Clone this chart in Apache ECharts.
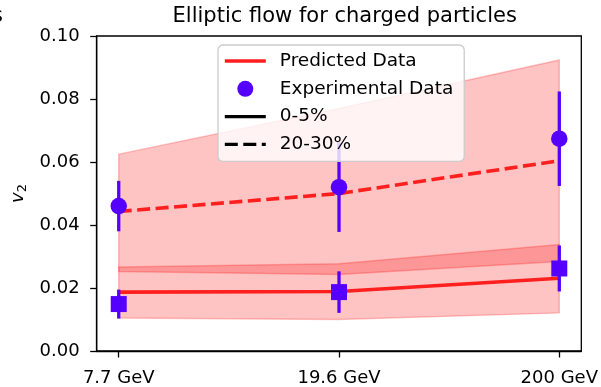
<!DOCTYPE html>
<html>
<head>
<meta charset="utf-8">
<script src="https://cdn.jsdelivr.net/npm/echarts@6/dist/echarts.min.js"></script>
<style>
  html, body { margin: 0; padding: 0; background: #ffffff; }
  #chart { width: 601px; height: 387px; }
</style>
</head>
<body>
<div id="chart"></div>
<script>
// Collision energies (x categories) and y-axis ticks
const energies = ['7.7 GeV', '19.6 GeV', '200 GeV'];
const yTicks = [0, 0.02, 0.04, 0.06, 0.08, 0.10];

// Model predictions of v2 per centrality class
const pred0to5 = [0.0187, 0.0189, 0.0231];
const pred20to30 = [0.0443, 0.0500, 0.0604];

// Prediction uncertainty bands
const band0to5Low = [0.0105, 0.0100, 0.0121];
const band0to5High = [0.0267, 0.0277, 0.0338];
const band20to30Low = [0.0252, 0.0243, 0.0284];
const band20to30High = [0.0625, 0.0770, 0.0924];

// Measured v2 with symmetric errors
const exp0to5 = [0.0149, 0.0187, 0.0262];
const exp0to5Err = [0.0046, 0.0066, 0.0073];
const exp20to30 = [0.0460, 0.0520, 0.0674];
const exp20to30Err = [0.0080, 0.0142, 0.0150];

const FONT = 'DejaVu Sans';
const predColor = '#ff1f1f';
const bandFill = 'rgba(250,0,0,0.23)';
const expColor = '#5500ff';
const dashPattern = [13, 5.5];

const chart = echarts.init(document.getElementById('chart'), null, { renderer: 'canvas' });

function bandSeries(name, lo, hi) {
  return {
    type: 'custom',
    name: name,
    silent: true,
    z: 1,
    data: energies.map((_, i) => [i, lo[i], hi[i]]),
    encode: { x: 0, y: [1, 2] },
    renderItem: (params, api) => {
      if (params.dataIndex !== 0) return null;
      const top = hi.map((v, i) => api.coord([i, v]));
      const bottom = lo.map((v, i) => api.coord([i, v])).reverse();
      return {
        type: 'polygon',
        shape: { points: top.concat(bottom) },
        style: { fill: bandFill, stroke: bandFill, lineWidth: 1.5 }
      };
    }
  };
}

function errorBarSeries(name, vals, errs) {
  return {
    type: 'custom',
    name: name,
    silent: true,
    z: 4,
    data: energies.map((_, i) => [i, vals[i], errs[i]]),
    encode: { x: 0, y: 1 },
    renderItem: (params, api) => {
      const x = api.value(0), v = api.value(1), e = api.value(2);
      const a = api.coord([x, v - e]);
      const b = api.coord([x, v + e]);
      return {
        type: 'line',
        shape: { x1: a[0], y1: a[1], x2: b[0], y2: b[1] },
        style: { stroke: expColor, lineWidth: 3.3 }
      };
    }
  };
}

const option = {
  animation: false,
  backgroundColor: '#ffffff',
  title: {
    text: 'Elliptic flow for charged particles',
    left: 339.7,
    top: 1,
    textAlign: 'center',
    textStyle: { fontFamily: FONT, fontSize: 21, fontWeight: 'normal', color: '#000' }
  },
  grid: {
    left: 96.7, right: 18.3, top: 36, bottom: 33.7,
    show: true, borderColor: '#000', borderWidth: 1.3, backgroundColor: 'transparent'
  },
  legend: {
    orient: 'vertical',
    left: 218,
    top: 45,
    z: 20,
    selectedMode: false,
    backgroundColor: 'rgba(255,255,255,0.8)',
    borderColor: '#cccccc',
    borderWidth: 1.3,
    borderRadius: 5,
    padding: [6, 11, 7, 5],
    itemWidth: 41,
    itemHeight: 16,
    itemGap: 7.8,
    textStyle: { fontFamily: FONT, fontSize: 18.5, color: '#000', lineHeight: 20, padding: [0, 0, 0, 9] },
    data: [
      { name: 'Predicted Data', itemStyle: { opacity: 0 }, lineStyle: { width: 3.6 } },
      { name: 'Experimental Data', icon: 'circle' },
      { name: '0-5%', itemStyle: { opacity: 0 }, lineStyle: { width: 3.4 } },
      { name: '20-30%', itemStyle: { opacity: 0 }, lineStyle: { width: 3.4, type: dashPattern } }
    ]
  },
  xAxis: {
    type: 'value',
    min: -0.1,
    max: 2.1,
    splitLine: { show: false },
    axisLine: { show: true, onZero: false, lineStyle: { color: '#000', width: 1.3 } },
    axisTick: {
      show: true, length: 6.5, inside: false,
      customValues: energies.map((_, i) => i),
      lineStyle: { color: '#000', width: 1.3 }
    },
    axisLabel: {
      customValues: energies.map((_, i) => i),
      formatter: (v) => energies[Math.round(v)],
      fontFamily: FONT, fontSize: 18, color: '#000', margin: 18
    }
  },
  yAxis: {
    type: 'value',
    min: yTicks[0],
    max: yTicks[yTicks.length - 1],
    interval: 0.02,
    name: '{v|v}{s|2}',
    nameLocation: 'middle',
    nameGap: 64,
    nameRotate: 90,
    nameTextStyle: {
      fontFamily: FONT, color: '#000',
      rich: {
        v: { fontFamily: FONT, fontSize: 18, fontStyle: 'italic', color: '#000' },
        s: { fontFamily: FONT, fontSize: 13, color: '#000', padding: [7, 0, 0, 0] }
      }
    },
    splitLine: { show: false },
    axisLine: { show: true, onZero: false, lineStyle: { color: '#000', width: 1.3 } },
    axisTick: { show: true, length: 6.5, inside: false, lineStyle: { color: '#000', width: 1.3 } },
    axisLabel: {
      formatter: (v) => v.toFixed(2),
      fontFamily: FONT, fontSize: 18, color: '#000', margin: 17
    }
  },
  graphic: [
    {
      type: 'text', left: -8, top: 6, silent: true,
      style: { text: 's', fontFamily: FONT, fontSize: 21, fill: '#000' }
    }
  ],
  series: [
    // prediction lines (the solid one defines the legend icon)
    {
      type: 'line', name: 'Predicted Data', z: 3, symbol: 'none', silent: true,
      data: pred0to5.map((v, i) => [i, v]),
      lineStyle: { color: predColor, width: 3.6 },
      itemStyle: { color: predColor }
    },
    {
      type: 'line', name: 'Predicted Data', z: 3, symbol: 'none', silent: true,
      data: pred20to30.map((v, i) => [i, v]),
      lineStyle: { color: predColor, width: 3.6, type: dashPattern },
      itemStyle: { color: predColor }
    },
    bandSeries('band 0-5%', band0to5Low, band0to5High),
    bandSeries('band 20-30%', band20to30Low, band20to30High),
    errorBarSeries('errors 0-5%', exp0to5, exp0to5Err),
    errorBarSeries('errors 20-30%', exp20to30, exp20to30Err),
    {
      type: 'scatter', name: 'Experimental Data', z: 5, silent: true,
      symbol: 'circle', symbolSize: 16.5,
      data: exp20to30.map((v, i) => [i, v]),
      itemStyle: { color: expColor, opacity: 1 }
    },
    {
      type: 'scatter', name: 'Experimental Data', z: 5, silent: true,
      symbol: 'rect', symbolSize: 16,
      data: exp0to5.map((v, i) => [i, v]),
      itemStyle: { color: expColor, opacity: 1 }
    },
    // centrality keys shown only in the legend
    {
      type: 'line', name: '0-5%', symbol: 'none', data: [],
      lineStyle: { color: '#000', width: 3.4 }, itemStyle: { color: '#000' }
    },
    {
      type: 'line', name: '20-30%', symbol: 'none', data: [],
      lineStyle: { color: '#000', width: 3.4, type: dashPattern }, itemStyle: { color: '#000' }
    }
  ]
};

chart.setOption(option);
</script>
</body>
</html>
